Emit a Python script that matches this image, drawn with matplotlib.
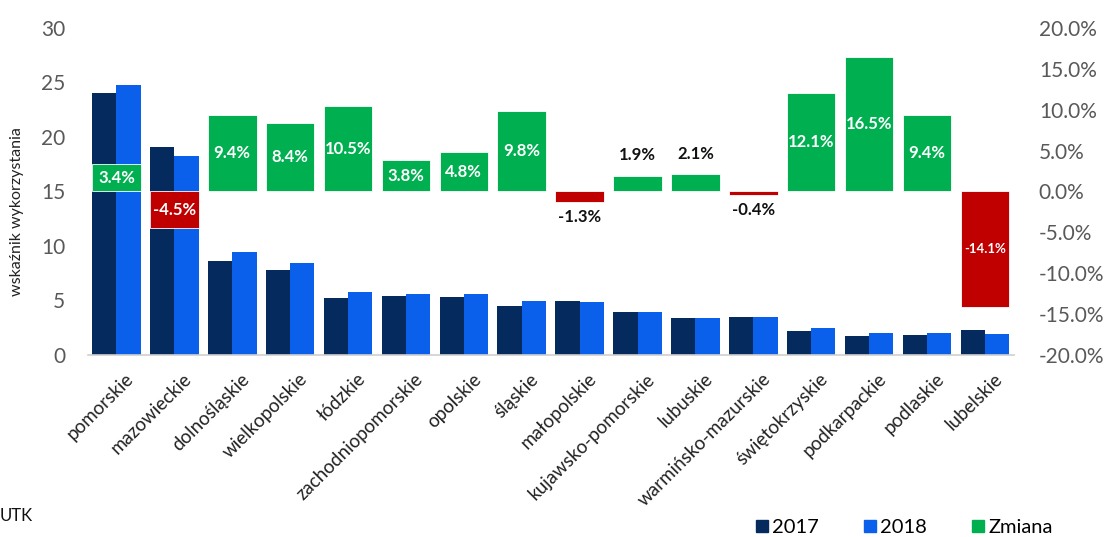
import matplotlib.pyplot as plt
from matplotlib.lines import Line2D
from matplotlib.transforms import ScaledTranslation
import numpy as np

plt.rcParams['font.family'] = ['Lato', 'DejaVu Sans']

regions = ['pomorskie', 'mazowieckie', 'dolnośląskie', 'wielkopolskie', 'łódzkie',
           'zachodniopomorskie', 'opolskie', 'śląskie', 'małopolskie',
           'kujawsko-pomorskie', 'lubuskie', 'warmińsko-mazurskie',
           'świętokrzyskie', 'podkarpackie', 'podlaskie', 'lubelskie']
values_2017 = [24.0, 19.1, 8.6, 7.8, 5.2, 5.4, 5.3, 4.5, 4.95, 3.9, 3.35, 3.45,
               2.2, 1.75, 1.8, 2.25]
values_2018 = [24.8, 18.25, 9.4, 8.45, 5.75, 5.6, 5.55, 4.95, 4.88, 3.97, 3.42, 3.44,
               2.47, 2.04, 1.97, 1.93]
change_pct = [3.4, -4.5, 9.4, 8.4, 10.5, 3.8, 4.8, 9.8, -1.3, 1.9, 2.1, -0.4,
              12.1, 16.5, 9.4, -14.1]

C2017 = '#042a5e'
C2018 = '#0a60ea'
GREEN = '#00b050'
RED = '#c00000'
GREY = '#595959'

fig = plt.figure(figsize=(11.12, 5.37), dpi=100)
ax = fig.add_axes([0.0787, 0.339, 0.833, 0.609])
x = np.arange(len(regions))
w = 0.42

ax.bar(x - w / 2, values_2017, width=w, color=C2017)
ax.bar(x + w / 2, values_2018, width=w, color=C2018)
ax.set_ylim(0, 30)
ax.set_xlim(-0.5, len(regions) - 0.5)
ax.set_yticks(range(0, 31, 5))
ax.tick_params(axis='y', length=0, labelsize=15, labelcolor=GREY, pad=16)
ax.tick_params(axis='x', length=0, pad=11)
ax.set_xticks(x)
ax.set_xticklabels(regions, rotation=45, ha='right', rotation_mode='anchor',
                   fontsize=13.5, color='#222222')
# nudge the slanted labels so their ends sit just right of the tick
shift = ScaledTranslation(6 / 72, 0, fig.dpi_scale_trans)
for lbl in ax.get_xticklabels():
    lbl.set_transform(lbl.get_transform() + shift)
ax.set_ylabel('wskaźnik wykorzystania', fontsize=11.5, color='#222222')
ax.yaxis.set_label_coords(-0.069, 0.437)
for s in ['top', 'right', 'left']:
    ax.spines[s].set_visible(False)
ax.spines['bottom'].set_color('#d0d0d0')
ax.spines['bottom'].set_linewidth(1.2)

# change in percent on the secondary axis
ax2 = ax.twinx()
colors = [GREEN if v >= 0 else RED for v in change_pct]
ax2.bar(x, change_pct, width=0.84, color=colors, edgecolor='white', linewidth=0.6)
ax2.set_ylim(-20, 20)
ax2.set_yticks(np.arange(-20, 21, 5))
ax2.set_yticklabels([f'{t:.1f}%' for t in np.arange(-20, 21, 5)])
ax2.tick_params(axis='y', length=0, labelsize=15, labelcolor=GREY, pad=18)
for s in ax2.spines.values():
    s.set_visible(False)

for xi, v in zip(x, change_pct):
    label = f'{v:.1f}%'
    if abs(v) >= 3:
        size = 9.5 if v < -10 else 12
        ax2.text(xi, v / 2, label, ha='center', va='center', color='white',
                 fontsize=size, fontweight='bold')
    elif v > 0:
        ax2.annotate(label, (xi, v), xytext=(0, 9), textcoords='offset points',
                     ha='center', va='bottom', fontsize=12, fontweight='bold', color='#111111')
    else:
        ax2.annotate(label, (xi, v), xytext=(0, -5), textcoords='offset points',
                     ha='center', va='top', fontsize=12, fontweight='bold', color='#111111')

fig.text(0.0, 0.04, 'UTK', fontsize=12, color='#111111', ha='left', va='center')

handles = [Line2D([], [], marker='s', linestyle='none', markersize=8.5, color=c)
           for c in (C2017, C2018, GREEN)]
fig.legend(handles, ['2017', '2018', 'Zmiana'], loc='center right',
           bbox_to_anchor=(0.963, 0.017), ncol=3, frameon=False, fontsize=14.5,
           handlelength=0.8, handletextpad=0.1, columnspacing=2.15)

fig.savefig('out.png', dpi=100)
